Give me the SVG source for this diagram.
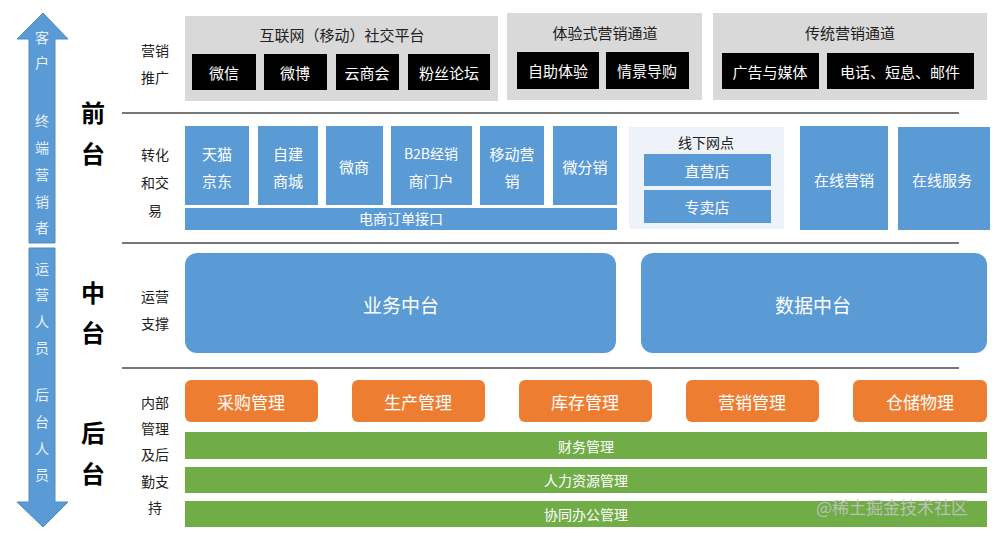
<svg xmlns="http://www.w3.org/2000/svg" width="992" height="535" viewBox="0 0 992 535">
<style>
text{font-family:"Microsoft YaHei","Noto Sans CJK SC","Liberation Sans",sans-serif;text-anchor:middle;dominant-baseline:central}
.gray{fill:#d9d9d9}
.blk{fill:#000}
.blue{fill:#5b9bd5}
.org{fill:#ed7d31}
.grn{fill:#70ad47}
.wt{fill:#ffffff;font-size:15px}
.wts{fill:#ffffff;font-size:14px}
.dk{fill:#222;font-size:15px}
.lbl{fill:#222;font-size:14px}
.big{fill:#000;font-size:24px;font-weight:bold}
.arr{fill:#e8f1fa;font-size:14px}
.sep{stroke:#777;stroke-width:2;fill:none}
</style>
<rect width="992" height="535" fill="#fff"/>
<g id="arrows">
<path class="blue" d="M43,13 L68,39 L55,39 L55,243 L29,243 L29,39 L17,39 Z" stroke="#4f8bc4" stroke-width="1"/>
<path class="blue" d="M29,248 L55,248 L55,502 L68,502 L43,527 L17,502 L29,502 Z" stroke="#4f8bc4" stroke-width="1"/>
<text class="arr" x="42" y="37">客</text>
<text class="arr" x="42" y="62">户</text>
<text class="arr" x="42" y="120">终</text>
<text class="arr" x="42" y="147">端</text>
<text class="arr" x="42" y="174">营</text>
<text class="arr" x="42" y="201">销</text>
<text class="arr" x="42" y="227">者</text>
<text class="arr" x="42" y="268">运</text>
<text class="arr" x="42" y="294">营</text>
<text class="arr" x="42" y="321">人</text>
<text class="arr" x="42" y="347">员</text>
<text class="arr" x="42" y="394">后</text>
<text class="arr" x="42" y="421">台</text>
<text class="arr" x="42" y="448">人</text>
<text class="arr" x="42" y="474">员</text>
</g>
<g id="tier-labels">
<text class="big" x="93" y="111">前</text>
<text class="big" x="93" y="152">台</text>
<text class="big" x="93" y="291">中</text>
<text class="big" x="93" y="331">台</text>
<text class="big" x="93" y="431">后</text>
<text class="big" x="93" y="472">台</text>
<text class="lbl" x="155" y="50">营销</text>
<text class="lbl" x="155" y="77">推广</text>
<text class="lbl" x="155" y="154">转化</text>
<text class="lbl" x="155" y="182">和交</text>
<text class="lbl" x="155" y="210">易</text>
<text class="lbl" x="155" y="296">运营</text>
<text class="lbl" x="155" y="323">支撑</text>
<text class="lbl" x="155" y="402">内部</text>
<text class="lbl" x="155" y="428">管理</text>
<text class="lbl" x="155" y="454">及后</text>
<text class="lbl" x="155" y="481">勤支</text>
<text class="lbl" x="155" y="507">持</text>
</g>
<g id="separators">
<line class="sep" x1="122" y1="113" x2="959" y2="113"/>
<line class="sep" x1="122" y1="243" x2="959" y2="243"/>
<line class="sep" x1="122" y1="368" x2="959" y2="368"/>
</g>
<g id="social">
<rect class="gray" x="185" y="16" width="313" height="85"/>
<text class="dk" x="342" y="34">互联网（移动）社交平台</text>
<rect class="blk" x="192" y="54" width="64" height="36"/><text class="wt" x="224" y="72">微信</text>
<rect class="blk" x="264" y="54" width="63" height="36"/><text class="wt" x="295" y="72">微博</text>
<rect class="blk" x="336" y="54" width="63" height="36"/><text class="wt" x="367" y="72">云商会</text>
<rect class="blk" x="408" y="54" width="82" height="36"/><text class="wt" x="449" y="72">粉丝论坛</text>
</g>
<g id="experience">
<rect class="gray" x="507" y="13" width="195" height="87"/>
<text class="dk" x="605" y="32">体验式营销通道</text>
<rect class="blk" x="517" y="52" width="82" height="37"/><text class="wt" x="558" y="70">自助体验</text>
<rect class="blk" x="606" y="52" width="83" height="37"/><text class="wt" x="647" y="70">情景导购</text>
</g>
<g id="traditional">
<rect class="gray" x="713" y="13" width="274" height="87"/>
<text class="dk" x="850" y="32">传统营销通道</text>
<rect class="blk" x="722" y="53" width="97" height="36"/><text class="wt" x="770" y="71">广告与媒体</text>
<rect class="blk" x="827" y="53" width="147" height="36"/><text class="wt" x="900" y="71">电话、短息、邮件</text>
</g>
<g id="channels">
<rect class="blue" x="185" y="126" width="64" height="79"/><text class="wt" x="217" y="153">天猫</text><text class="wt" x="217" y="180">京东</text>
<rect class="blue" x="258" y="126" width="60" height="79"/><text class="wt" x="288" y="153">自建</text><text class="wt" x="288" y="180">商城</text>
<rect class="blue" x="326" y="126" width="57" height="79"/><text class="wt" x="354" y="166">微商</text>
<rect class="blue" x="391" y="126" width="81" height="79"/><text class="wts" x="431" y="153">B2B经销</text><text class="wt" x="431" y="180">商门户</text>
<rect class="blue" x="480" y="126" width="64" height="79"/><text class="wt" x="512" y="153">移动营</text><text class="wt" x="512" y="180">销</text>
<rect class="blue" x="553" y="126" width="64" height="79"/><text class="wt" x="585" y="166">微分销</text>
<rect class="blue" x="185" y="208" width="432" height="22"/><text class="wts" x="401" y="218">电商订单接口</text>
</g>
<g id="offline">
<rect x="629" y="127" width="155" height="102" fill="#eef3f9"/>
<text class="lbl" x="706" y="142">线下网点</text>
<rect class="blue" x="644" y="154" width="127" height="32"/><text class="wt" x="707" y="170">直营店</text>
<rect class="blue" x="644" y="190" width="127" height="33"/><text class="wt" x="707" y="206">专卖店</text>
</g>
<g id="online">
<rect class="blue" x="800" y="126" width="88" height="104"/><text class="wt" x="844" y="179">在线营销</text>
<rect class="blue" x="898" y="127" width="92" height="103"/><text class="wt" x="942" y="179">在线服务</text>
</g>
<g id="middle">
<rect class="blue" x="185" y="253" width="431" height="100" rx="12"/><text class="wt" x="401" y="304" style="font-size:19px">业务中台</text>
<rect class="blue" x="641" y="253" width="346" height="100" rx="12"/><text class="wt" x="813" y="304" style="font-size:19px">数据中台</text>
</g>
<g id="backend">
<rect class="org" x="185" y="380" width="133" height="42" rx="6"/><text class="wt" x="251" y="401" style="font-size:17px">采购管理</text>
<rect class="org" x="352" y="380" width="133" height="42" rx="6"/><text class="wt" x="418" y="401" style="font-size:17px">生产管理</text>
<rect class="org" x="519" y="380" width="133" height="42" rx="6"/><text class="wt" x="585" y="401" style="font-size:17px">库存管理</text>
<rect class="org" x="686" y="380" width="133" height="42" rx="6"/><text class="wt" x="752" y="401" style="font-size:17px">营销管理</text>
<rect class="org" x="853" y="380" width="134" height="42" rx="6"/><text class="wt" x="920" y="401" style="font-size:17px">仓储物理</text>
<rect class="grn" x="185" y="432" width="802" height="27"/><text class="wts" x="586" y="446">财务管理</text>
<rect class="grn" x="185" y="467" width="802" height="26"/><text class="wts" x="586" y="480">人力资源管理</text>
<rect class="grn" x="185" y="501" width="802" height="26"/><text class="wts" x="586" y="514">协同办公管理</text>
</g>
<text x="892" y="506" style="font-size:17px;fill:#c4c4c4;fill-opacity:0.9">@稀土掘金技术社区</text>
</svg>
